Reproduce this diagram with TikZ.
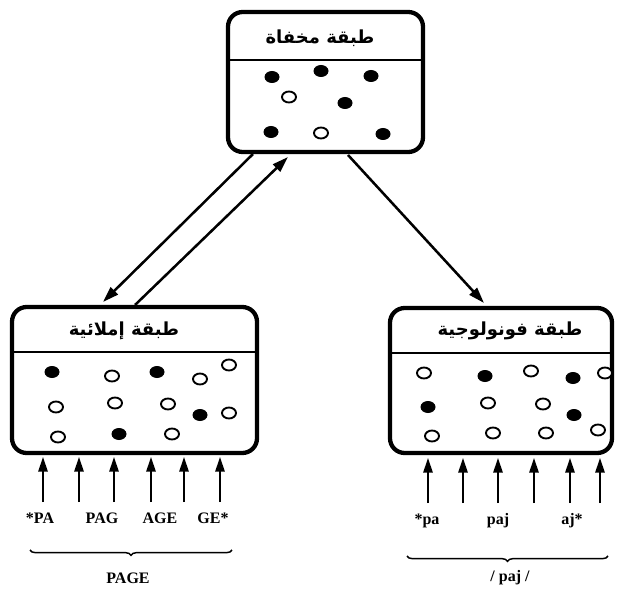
\documentclass[tikz,border=0pt]{standalone}
\usepackage{fontspec}
\setmainfont{Liberation Serif}
\newfontfamily\arabicfont[Script=Arabic]{DejaVu Sans Bold}
\TeXXeTstate=1
\usetikzlibrary{arrows.meta,decorations.pathreplacing,fit}

\begin{document}
\begin{tikzpicture}[x=0.75pt,y=-0.75pt,
  layer/.style={draw, line width=3.2pt, rounded corners=11pt, inner sep=0pt},
  sep/.style={line width=1.2pt},
  full/.style={fill=black},
  hollow/.style={draw, line width=1.4pt, fill=white},
  link/.style={line width=1.9pt, -{Triangle[length=12pt,width=7.5pt]}},
  feed/.style={line width=1.4pt, -{Triangle[length=11pt,width=7pt]}},
  title/.style={font=\arabicfont\fontsize{13.5}{16}\selectfont, inner sep=0pt},
  unit/.style={font=\bfseries\fontsize{12}{14}\selectfont, inner sep=0pt},
  span/.style={decorate, decoration={brace, mirror, amplitude=4pt}, line width=1.1pt}]

\useasboundingbox (0,0) rectangle (622,592);

% ---- the three layers ----
\node[layer, fit={(228,12) (423,152)}] (hidden) {};
\node[layer, fit={(12,307) (257,453)}] (ortho) {};
\node[layer, fit={(390,308) (612,453)}] (phono) {};

\draw[sep] (228,60) -- (423,60);
\draw[sep] (12,352) -- (257,352);
\draw[sep] (390,353) -- (612,353);

\node[title] (hidden-t) at (320,38) {\beginR طبقة مخفاة\endR};
\node[title] (ortho-t) at (124,331) {\beginR طبقة إملائية\endR};
\node[title] (phono-t) at (510,331) {\beginR طبقة فونولوجية\endR};

% ---- units inside the layers ----
\foreach \x/\y in {272/77,321/71,371/76,345/103,271/132,383/134,
                   52/372,157/372,200/415,119/434,
                   485/376,573/378,428/407,574/415}
  \fill[full] (\x,\y) ellipse [x radius=7.5, y radius=6];
\foreach \x/\y in {289/97,321/133,
                   112/376,200/379,229/365,56/407,115/403,168/404,229/413,58/437,172/434,
                   424/373,531/371,605/373,488/403,543/404,432/436,493/433,546/433,598/430}
  \draw[hollow] (\x,\y) ellipse [x radius=7, y radius=5.5];

% ---- connections between layers ----
\coordinate (h-down) at (253,154);
\coordinate (o-in) at (103,302);
\coordinate (o-out) at (135,305);
\coordinate (h-in) at (288,157);
\coordinate (h-right) at (348,155);
\coordinate (p-in) at (484,303);
\draw[link] (h-down) -- (o-in);
\draw[link] (o-out) -- (h-in);
\draw[link] (h-right) -- (p-in);

% ---- input arrows ----
\foreach \x in {43,79,114,151,184,220} {
  \coordinate (ob\x) at (\x,502);
  \coordinate (ot\x) at (\x,457);
  \draw[feed] (ob\x) -- (ot\x);
}
\foreach \x in {428,463,498,534,570,600} {
  \coordinate (pb\x) at (\x,503);
  \coordinate (pt\x) at (\x,458);
  \draw[feed] (pb\x) -- (pt\x);
}

% ---- letter groups ----
\node[unit] (g1) at (40,518) {*PA};
\node[unit] (g2) at (102,518) {PAG};
\node[unit] (g3) at (160,518) {AGE};
\node[unit] (g4) at (213,518) {GE*};

\node[unit] (s1) at (427,521) {*pa};
\node[unit] (s2) at (498,521) {paj};
\node[unit] (s3) at (572,521) {aj*};

% ---- braces and whole words ----
\coordinate (ol) at (30,550);
\coordinate (or) at (232,550);
\draw[span] (ol) -- (or);
\node[unit] (word) at (128,578) {PAGE};

\coordinate (pl) at (407,556);
\coordinate (pr) at (608,556);
\draw[span] (pl) -- (pr);
\node[unit] (sound) at (510,578) {/ paj /};

\end{tikzpicture}
\end{document}
